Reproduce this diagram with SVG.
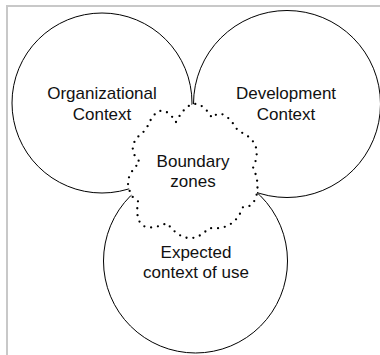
<svg xmlns="http://www.w3.org/2000/svg" width="380" height="355" viewBox="0 0 380 355">
<style>
.frame{stroke:#c8c8c8;stroke-width:2;fill:none}
.ctx{fill:#fff;stroke:#000;stroke-width:1}
.cloud{fill:#fff;stroke:#000;stroke-width:2.3;stroke-linecap:round;stroke-dasharray:0 6.9}
text{font-family:"Liberation Sans",Arial,Helvetica,sans-serif;font-size:17px;fill:#111;text-anchor:middle}
</style>
<rect width="380" height="355" fill="#fff"/>
<g id="frame">
<line class="frame" x1="7" y1="6" x2="380" y2="6"/>
<line class="frame" x1="7" y1="5" x2="7" y2="355"/>
</g>
<g id="organizational-context">
<circle class="ctx" cx="102" cy="103" r="90"/>
</g>
<g id="development-context">
<circle class="ctx" cx="287" cy="104" r="93.5"/>
</g>
<g id="expected-context">
<circle class="ctx" cx="195.5" cy="261" r="92"/>
</g>
<g id="boundary-zones">
<path class="cloud" d="M176 122 Q194 88 212 118 Q223 105.5 238 131 Q265 141.5 253 168 Q259 179.5 257 193 Q254 208 243 207 Q234.4 231 209 228 Q188 250.5 167 223 Q132.5 238.4 138 201 Q130.5 197.5 129 188 Q124.5 177 140 162 Q123 146 146 130 Q159 96 176 122 Z"/>
</g>
<g id="labels">
<text x="102" y="99.3">Organizational</text>
<text x="102" y="119.5">Context</text>
<text x="286" y="99.3">Development</text>
<text x="286" y="119.5">Context</text>
<text x="193" y="167.3">Boundary</text>
<text x="193" y="187.3">zones</text>
<text x="196" y="258.3">Expected</text>
<text x="196" y="277.7">context of use</text>
</g>
</svg>
